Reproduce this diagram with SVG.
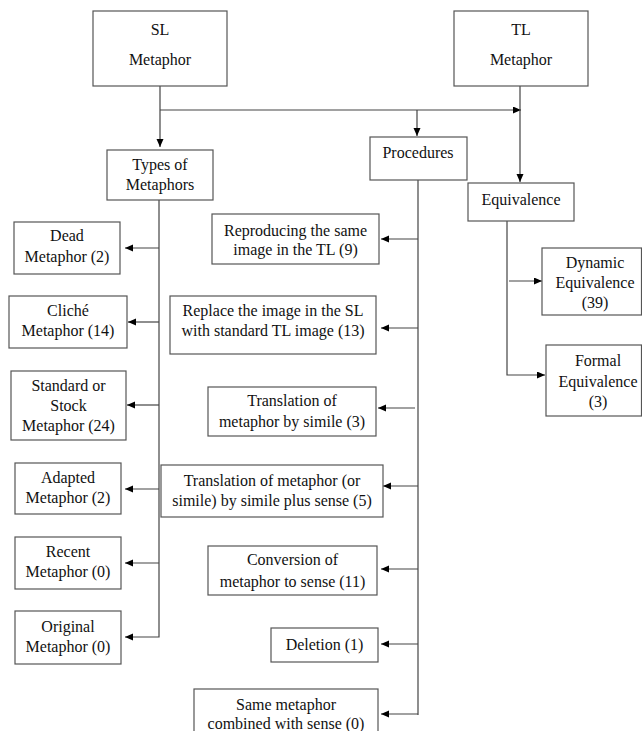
<svg xmlns="http://www.w3.org/2000/svg" width="642" height="731" viewBox="0 0 642 731">
<style>
.box{fill:#fff;stroke:#555;stroke-width:1.2}
.t{font-family:"Liberation Serif","Times New Roman",serif;font-size:16px;fill:#111;text-anchor:middle}
.c{fill:none;stroke:#444;stroke-width:1.2}
</style>
<defs>
<marker id="ah" markerUnits="userSpaceOnUse" markerWidth="9" markerHeight="8" refX="8" refY="3.5" orient="auto">
<path d="M0,0 L8,3.5 L0,7 z" fill="#000"/>
</marker>
</defs>
<rect width="642" height="731" fill="#fff"/>
<g id="connectors">
<path class="c" d="M160,86 V147" marker-end="url(#ah)"/>
<path class="c" d="M160,110 H521" marker-end="url(#ah)"/>
<path class="c" d="M417,110 V136" marker-end="url(#ah)"/>
<path class="c" d="M520,86 V182" marker-end="url(#ah)"/>
<path class="c" d="M159,200 V637 H125" marker-end="url(#ah)"/>
<path class="c" d="M159,248 H125" marker-end="url(#ah)"/>
<path class="c" d="M159,322 H128" marker-end="url(#ah)"/>
<path class="c" d="M159,405 H127" marker-end="url(#ah)"/>
<path class="c" d="M159,489 H125" marker-end="url(#ah)"/>
<path class="c" d="M159,563 H125" marker-end="url(#ah)"/>
<path class="c" d="M418,180 V715"/>
<path class="c" d="M418,239 H381" marker-end="url(#ah)"/>
<path class="c" d="M418,328 H381" marker-end="url(#ah)"/>
<path class="c" d="M415,408 H378" marker-end="url(#ah)"/>
<path class="c" d="M418,486 H383" marker-end="url(#ah)"/>
<path class="c" d="M418,569 H381" marker-end="url(#ah)"/>
<path class="c" d="M418,644 H381" marker-end="url(#ah)"/>
<path class="c" d="M418,714 H381" marker-end="url(#ah)"/>
<path class="c" d="M507,221 V375 H545" marker-end="url(#ah)"/>
<path class="c" d="M509,281 H542" marker-end="url(#ah)"/>
</g>
<g id="sl"><rect class="box" x="93" y="11" width="134" height="75"/><text class="t" x="160" y="35">SL</text><text class="t" x="160" y="65">Metaphor</text></g>
<g id="tl"><rect class="box" x="454" y="11" width="134" height="75"/><text class="t" x="521" y="35">TL</text><text class="t" x="521" y="65">Metaphor</text></g>
<g id="types"><rect class="box" x="107" y="150" width="106" height="50"/><text class="t" x="160" y="170">Types of</text><text class="t" x="160" y="190">Metaphors</text></g>
<g id="procedures"><rect class="box" x="370" y="137" width="97" height="43"/><text class="t" x="418" y="158">Procedures</text></g>
<g id="equivalence"><rect class="box" x="468" y="183" width="106" height="38"/><text class="t" x="521" y="205">Equivalence</text></g>
<g id="dead"><rect class="box" x="14" y="222" width="106" height="52"/><text class="t" x="67" y="241">Dead</text><text class="t" x="67" y="262">Metaphor (2)</text></g>
<g id="cliche"><rect class="box" x="9" y="296" width="118" height="52"/><text class="t" x="68" y="316">Cliché</text><text class="t" x="68" y="336">Metaphor (14)</text></g>
<g id="standard"><rect class="box" x="11" y="371" width="115" height="69"/><text class="t" x="68.5" y="391">Standard or</text><text class="t" x="68.5" y="411">Stock</text><text class="t" x="68.5" y="431">Metaphor (24)</text></g>
<g id="adapted"><rect class="box" x="15" y="463" width="106" height="51"/><text class="t" x="68" y="483">Adapted</text><text class="t" x="68" y="503">Metaphor (2)</text></g>
<g id="recent"><rect class="box" x="15" y="537" width="106" height="52"/><text class="t" x="68" y="557">Recent</text><text class="t" x="68" y="577">Metaphor (0)</text></g>
<g id="original"><rect class="box" x="15" y="611" width="106" height="53"/><text class="t" x="68" y="632">Original</text><text class="t" x="68" y="652">Metaphor (0)</text></g>
<g id="reproducing"><rect class="box" x="212" y="214" width="167" height="50"/><text class="t" x="295.5" y="236">Reproducing the same</text><text class="t" x="295.5" y="255">image in the TL (9)</text></g>
<g id="replace"><rect class="box" x="170" y="296" width="206" height="58"/><text class="t" x="273" y="316">Replace the image in the SL</text><text class="t" x="273" y="336">with standard TL image (13)</text></g>
<g id="simile"><rect class="box" x="208" y="387" width="168" height="49"/><text class="t" x="292" y="406">Translation of</text><text class="t" x="292" y="427">metaphor by simile (3)</text></g>
<g id="simileplus"><rect class="box" x="161" y="465" width="222" height="52"/><text class="t" x="272" y="486">Translation of metaphor (or</text><text class="t" x="272" y="506">simile) by simile plus sense (5)</text></g>
<g id="conversion"><rect class="box" x="208" y="546" width="169" height="49"/><text class="t" x="292.5" y="565">Conversion of</text><text class="t" x="292.5" y="587">metaphor to sense (11)</text></g>
<g id="deletion"><rect class="box" x="271" y="628" width="107" height="34"/><text class="t" x="324.5" y="650">Deletion (1)</text></g>
<g id="same"><rect class="box" x="194" y="689" width="184" height="60"/><text class="t" x="286" y="710">Same metaphor</text><text class="t" x="286" y="729">combined with sense (0)</text></g>
<g id="dynamic"><rect class="box" x="542" y="248" width="99.5" height="67"/><text class="t" x="595" y="268">Dynamic</text><text class="t" x="595" y="288">Equivalence</text><text class="t" x="595" y="308">(39)</text></g>
<g id="formal"><rect class="box" x="546" y="345" width="95.5" height="71"/><text class="t" x="598" y="366">Formal</text><text class="t" x="598" y="387">Equivalence</text><text class="t" x="598" y="407">(3)</text></g>
</svg>
